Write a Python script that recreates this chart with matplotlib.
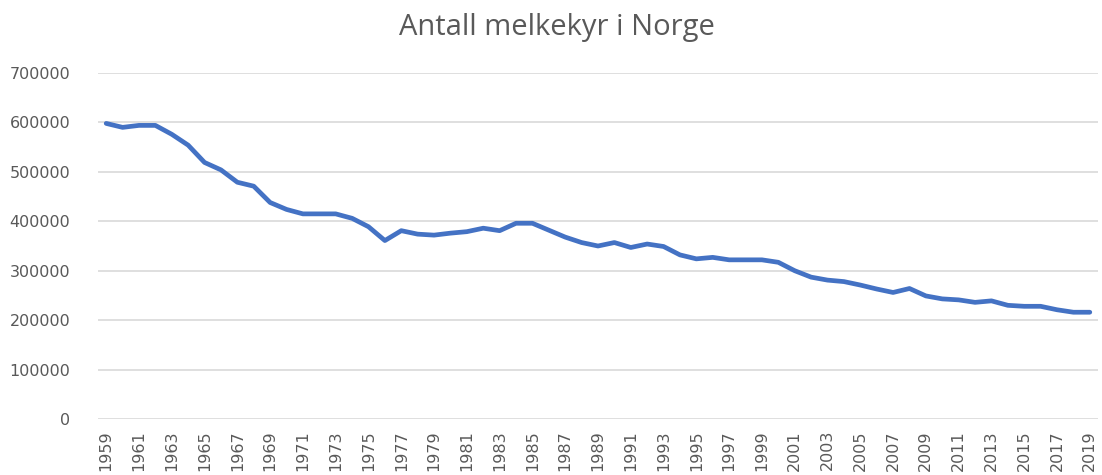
import numpy as np
import matplotlib.pyplot as plt

years = list(range(1959, 2020))
cows = [598000, 590000, 594000, 594000, 576000, 554000, 519000, 504000, 479000, 471000,
        438000, 424000, 415000, 415000, 415000, 406000, 389000, 361000, 381000, 374000,
        372000, 376000, 379000, 386000, 381000, 396000, 396000, 382000, 368000, 357000,
        350000, 357000, 347000, 354000, 349000, 332000, 324000, 327000, 322000, 322000,
        322000, 317000, 300000, 287000, 281000, 278000, 271000, 263000, 256000, 264000,
        249000, 243000, 241000, 236000, 239000, 230000, 228000, 228000, 221000, 216000,
        216000]
yticks = np.arange(0, 700001, 100000)

fig = plt.figure(figsize=(11.02, 4.75), dpi=100)
ax = fig.add_axes([98 / 1102, 1 - 419 / 475, 1000 / 1102, 346 / 475])

x = np.arange(len(years))
ax.plot(x, cows, color='#4472C4', lw=3.4, solid_capstyle='round', solid_joinstyle='round')

ax.set_xlim(-0.5, len(years) - 0.5)
ax.set_ylim(0, 700000)
ax.set_yticks(yticks)
ax.set_yticklabels([str(v) for v in yticks])
ax.set_xticks(x[::2])
ax.set_xticklabels([str(y) for y in years[::2]], rotation=90)
ax.yaxis.grid(True, color='#D9D9D9', lw=1.2)
ax.set_axisbelow(True)
for spine in ax.spines.values():
	spine.set_visible(False)
ax.tick_params(axis='both', length=0, colors='#595959', labelsize=11.5)
ax.tick_params(axis='y', pad=20)
ax.tick_params(axis='x', pad=8)

fig.text(0.505, 0.942, 'Antall melkekyr i Norge', ha='center', va='center',
         fontsize=21, color='#595959', family='Open Sans')

fig.savefig('out.png', dpi=100)
